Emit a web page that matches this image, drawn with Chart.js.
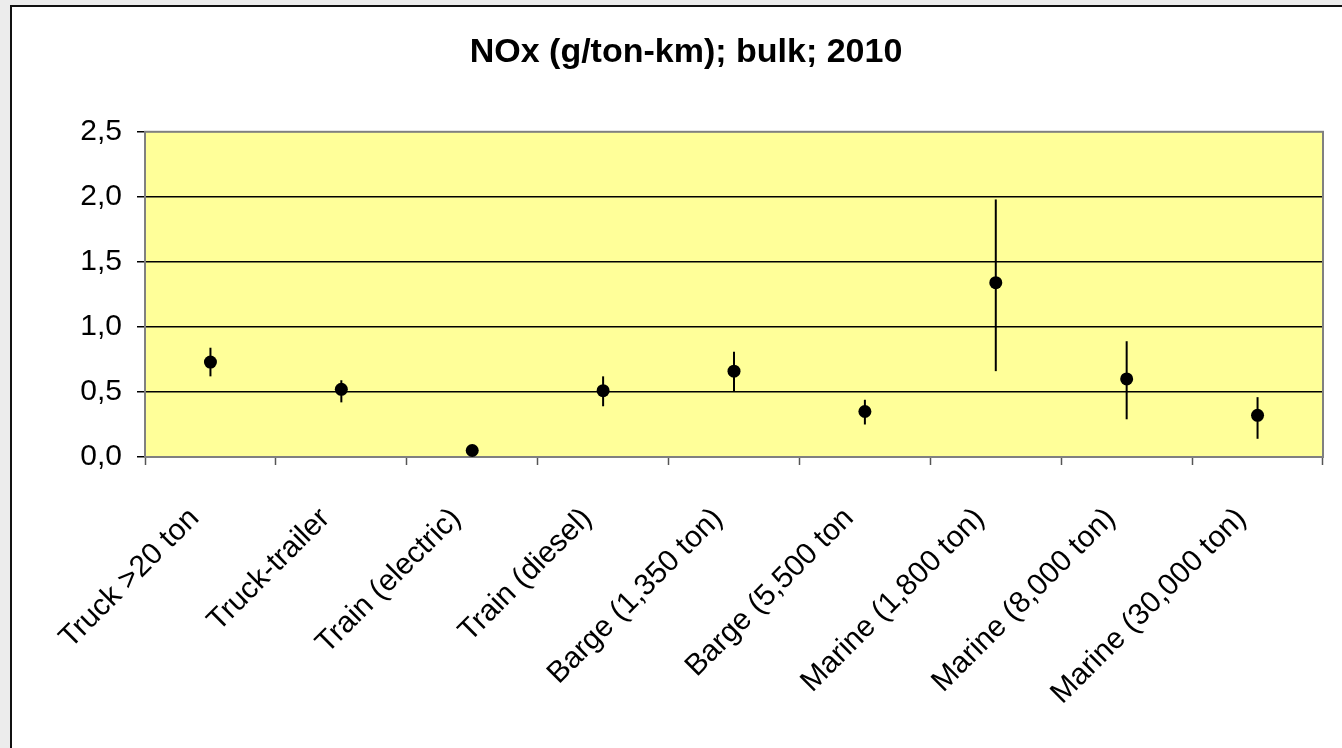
<!DOCTYPE html>
<html>
<head>
<meta charset="utf-8">
<script src="https://cdn.jsdelivr.net/npm/chart.js@4/dist/chart.umd.min.js"></script>
<style>
  html, body { margin: 0; padding: 0; background: #ececec; overflow: hidden; }
  .frame {
    position: absolute; left: 10px; top: 5px; width: 1400px; height: 800px;
    background: #fff; border-left: 2px solid #111; border-top: 2px solid #111;
  }
  .wrap { position: absolute; left: 0; top: 0; width: 1342px; height: 748px; }
</style>
</head>
<body>
<div class="frame"></div>
<div class="wrap"><canvas id="noxChart"></canvas></div>
<script>
// ---------------------------
// DADOS
// ---------------------------
const categories = [
  "Truck >20 ton",
  "Truck-trailer",
  "Train (electric)",
  "Train (diesel)",
  "Barge (1,350 ton)",
  "Barge (5,500 ton",
  "Marine (1,800 ton)",
  "Marine (8,000 ton)",
  "Marine (30,000 ton)"
];
const noxValues = [0.73, 0.52, 0.05, 0.51, 0.66, 0.35, 1.34, 0.60, 0.32];
const errLow = [0.62, 0.42, 0.05, 0.39, 0.50, 0.25, 0.66, 0.29, 0.14];
const errHigh = [0.84, 0.59, 0.05, 0.62, 0.81, 0.44, 1.98, 0.89, 0.46];
const yTicks = [0, 0.5, 1.0, 1.5, 2.0, 2.5];

// ---------------------------
// PLUGINS
// ---------------------------
const plotBackground = {
  id: "plotBackground",
  beforeDraw(chart) {
    const { ctx, chartArea: a } = chart;
    ctx.save();
    ctx.fillStyle = "#ffff99";
    ctx.fillRect(a.left, a.top, a.right - a.left, a.bottom - a.top);
    ctx.restore();
  },
  beforeDatasetsDraw(chart) {
    const { ctx, chartArea: a } = chart;
    ctx.save();
    ctx.strokeStyle = "#808080";
    ctx.lineWidth = 2;
    ctx.strokeRect(a.left, a.top, a.right - a.left, a.bottom - a.top);
    ctx.restore();
  }
};

const errorBars = {
  id: "errorBars",
  afterDatasetsDraw(chart) {
    const { ctx, scales } = chart;
    ctx.save();
    ctx.strokeStyle = "#000";
    ctx.lineWidth = 2;
    categories.forEach((c, i) => {
      const x = scales.x.getPixelForValue(i);
      ctx.beginPath();
      ctx.moveTo(x, scales.y.getPixelForValue(errLow[i]));
      ctx.lineTo(x, scales.y.getPixelForValue(errHigh[i]));
      ctx.stroke();
    });
    ctx.restore();
  }
};

// ---------------------------
// GRÁFICO
// ---------------------------
const ctx = document.getElementById("noxChart").getContext("2d");

new Chart(ctx, {
  type: "line",
  data: {
    labels: categories,
    datasets: [
      {
        label: "NOx",
        data: noxValues,
        showLine: false,
        pointRadius: 6.5,
        pointBackgroundColor: "#000",
        pointBorderColor: "#000",
        pointBorderWidth: 0
      }
    ]
  },
  options: {
    responsive: true,
    maintainAspectRatio: false,
    animation: false,
    // esquerda maior para o título ficar centrado em ~686px
    layout: { padding: { left: 49, right: 19, top: 0, bottom: 0 } },
    plugins: {
      legend: { display: false },
      tooltip: { enabled: false },
      title: {
        display: true,
        text: "NOx (g/ton-km); bulk; 2010",
        color: "#000",
        font: { family: "'Liberation Sans', Arial", size: 34, weight: "bold" },
        padding: { top: 32, bottom: 59 }
      }
    },
    scales: {
      x: {
        type: "category",
        offset: true,
        grid: {
          offset: true,
          drawOnChartArea: false,
          drawTicks: true,
          tickLength: 8,
          tickColor: "#555",
          tickWidth: 1.5
        },
        border: { display: false },
        ticks: {
          color: "#000",
          font: { family: "'Liberation Sans', Arial", size: 30 },
          maxRotation: 45,
          minRotation: 45,
          autoSkip: false,
          padding: 36,
          labelOffset: -16
        },
        afterFit(scale) {
          scale.height = 291;
        }
      },
      y: {
        min: 0,
        max: 2.5,
        afterBuildTicks(scale) {
          scale.ticks = yTicks.map((v) => ({ value: v }));
        },
        grid: {
          color: (c) =>
            c.tick && (c.tick.value === 0 || c.tick.value === 2.5)
              ? "rgba(0,0,0,0)"
              : "#000",
          lineWidth: 1.5,
          tickLength: 8,
          tickColor: "#000",
          tickWidth: 1.5
        },
        border: { display: false },
        ticks: {
          color: "#000",
          font: { family: "'Liberation Sans', Arial", size: 30 },
          padding: 15,
          callback: (v) => Number(v).toFixed(1).replace(".", ",")
        },
        afterFit(scale) {
          scale.width = 96;
        }
      }
    }
  },
  plugins: [plotBackground, errorBars]
});
</script>
</body>
</html>
